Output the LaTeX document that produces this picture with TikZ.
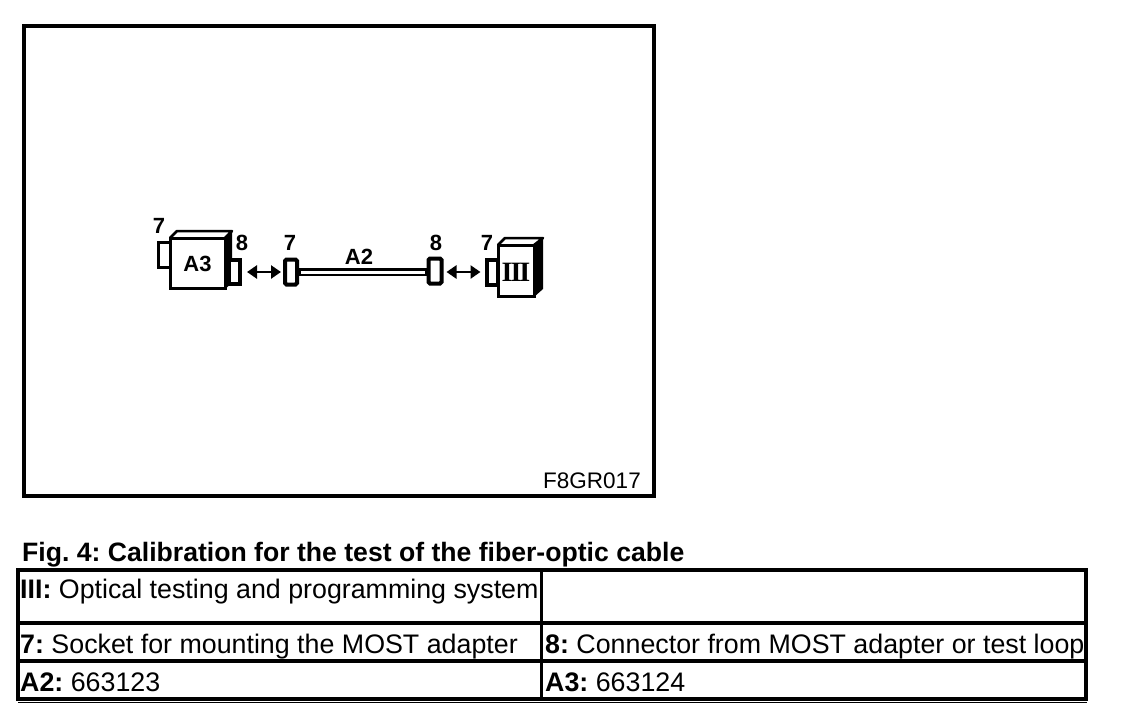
\documentclass[tikz,border=0pt]{standalone}
\usepackage{fontspec}
\setmainfont{Liberation Sans}
\usetikzlibrary{arrows.meta}
\tikzset{
  frameline/.style={draw=black,line width=3.5pt},
  gridline/.style={draw=black,line width=3.5pt},
  thinline/.style={draw=black,line width=1pt},
  devbox/.style={draw=black,fill=white,line width=3pt,minimum size=0pt,inner sep=0pt,font=\bfseries\fontsize{22}{22}\selectfont},
  conn/.style={draw=black,fill=white,line width=4pt,rounded corners=1.5pt,inner sep=0pt},
  tag/.style={inner sep=0pt,font=\bfseries\fontsize{22}{22}\selectfont},
  cell/.style={anchor=base west,inner sep=0pt,font=\fontsize{26.8}{26.8}\selectfont},
  link/.style={draw=black,line width=2.5pt,{Triangle[length=10pt,width=13pt]}-{Triangle[length=10pt,width=13pt]}},
}
\begin{document}
\frenchspacing
\begin{tikzpicture}[x=1pt,y=-1pt]
\useasboundingbox (0,0) rectangle (1136,728);
\fill[white] (0,0) rectangle (1136,728);
% frame
\draw[frameline] (24,26) rectangle (654,496);
% A3 device
\fill[black] (225,238) -- (232,230) -- (232,283) -- (225,289) -- cycle;
\draw[line width=2.5pt,line join=round] (170,238) -- (177,231) -- (232,231) -- (225,238);
\node[conn,rounded corners=0pt,line width=3pt,minimum width=12pt,minimum height=25pt] (a3l) at (164,255) {};
\node[conn,rounded corners=0pt,minimum width=12pt,minimum height=24pt] (a3r) at (234,272) {};
\fill[black] (227,256) rectangle (231,286);
\node[devbox,minimum width=55pt,minimum height=50pt] (a3) at (197.5,263.5) {A3};
% III device
\fill[black] (534,245) -- (543,237) -- (543,289) -- (534,297) -- cycle;
\draw[line width=2.5pt,line join=round] (498,245) -- (505,238) -- (543,238) -- (534,245);
\node[conn,rounded corners=0pt,minimum width=11pt,minimum height=25pt] (c7c) at (492,272) {};
\node[devbox,minimum width=36pt,minimum height=51pt] (iii) at (516,271) {};
\node[font=\bfseries\fontsize{28}{28}\selectfont,inner sep=0pt] (iiilabel) at (516,272) {\fontspec{Liberation Serif}I\kern-2pt I\kern-2pt I};
% plug connectors
\node[conn,minimum width=12pt,minimum height=25pt] (c7b) at (291,272) {};
\node[conn,minimum width=13pt,minimum height=25pt] (c8b) at (435,271) {};
% cable
\draw[black,line width=8pt] (c7b.east) -- (c8b.west |- c7b.east);
\draw[white,line width=3pt] ([xshift=2pt]c7b.east) -- ([xshift=-2pt]c8b.west |- c7b.east);
% arrows
\draw[link] ([xshift=5pt]a3r.east) -- ([xshift=-2pt]c7b.west);
\draw[link] ([xshift=3pt]c8b.east |- c7c.west) -- ([xshift=-4pt]c7c.west);
% tags
\node[tag] (t1) at (159,226) {7};
\node[tag] (t2) at (242,243) {8};
\node[tag] (t3) at (290,243) {7};
\node[tag] (t4) at (359,257) {A2};
\node[tag] (t5) at (436,243) {8};
\node[tag] (t6) at (487,243) {7};
\node[tag,font=\fontsize{22.5}{22.5}\selectfont] (code) at (592,481) {F8GR017};
% caption
\node[cell,font=\bfseries\fontsize{26.6}{26.6}\selectfont] (cap) at (22,561) {Fig. 4: Calibration for the test of the fiber-optic cable};
% table
\draw[gridline] (18,570) rectangle (1086,699);
\draw[gridline] (18,623) -- (1086,623);
\draw[gridline] (18,661) -- (1086,661);
\draw[gridline] (541.5,570) -- (541.5,699);
\draw[thinline] (18,702) -- (1087,702);
\node[cell] (c1) at (20,598) {\textbf{III:} Optical testing and programming system};
\node[cell] (c2) at (20,653) {\textbf{7:} Socket for mounting the MOST adapter};
\node[cell] (c3) at (545,653) {\textbf{8:} Connector from MOST adapter or test loop};
\node[cell] (c4) at (20,691) {\textbf{A2:} 663123};
\node[cell] (c5) at (545,691) {\textbf{A3:} 663124};
\end{tikzpicture}
\end{document}
